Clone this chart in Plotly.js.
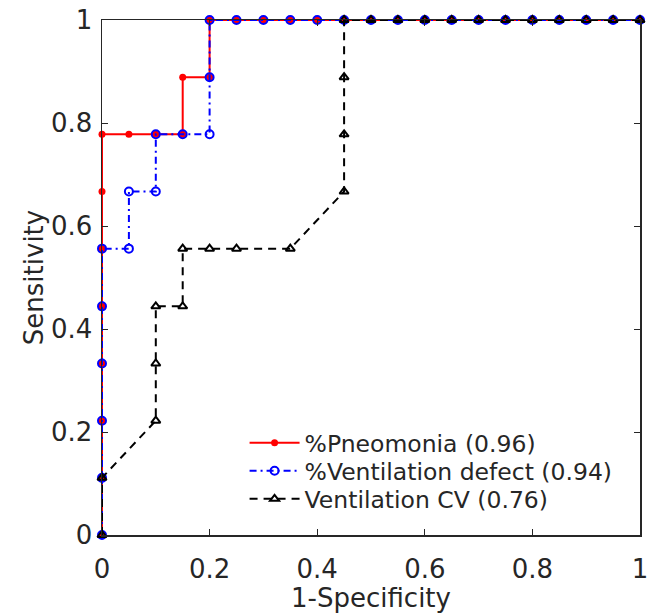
<!DOCTYPE html>
<html>
<head>
<meta charset="utf-8">
<script src="https://cdn.plot.ly/plotly-3.0.1.min.js"></script>
<style>html,body{margin:0;padding:0;background:#fff;}#chart{width:657px;height:613px;}</style>
</head>
<body>
<div id="chart"></div>
<script>
// 1-Specificity (x) and Sensitivity (y) for each ROC curve
const pneumoniaX = [0, 0, 0, 0, 0, 0, 0, 0, 0.05, 0.10, 0.15, 0.15, 0.20, 0.20, 0.25, 0.30, 0.35, 0.40, 0.45, 0.50, 0.55, 0.60, 0.65, 0.70, 0.75, 0.80, 0.85, 0.90, 0.95, 1.00];
const pneumoniaY = [0, 0.111, 0.222, 0.333, 0.444, 0.556, 0.667, 0.778, 0.778, 0.778, 0.778, 0.889, 0.889, 1, 1, 1, 1, 1, 1, 1, 1, 1, 1, 1, 1, 1, 1, 1, 1, 1];

const ventDefectX = [0, 0, 0, 0, 0, 0, 0.05, 0.05, 0.10, 0.10, 0.15, 0.20, 0.20, 0.20, 0.25, 0.30, 0.35, 0.40, 0.45, 0.50, 0.55, 0.60, 0.65, 0.70, 0.75, 0.80, 0.85, 0.90, 0.95, 1.00];
const ventDefectY = [0, 0.111, 0.222, 0.333, 0.444, 0.556, 0.556, 0.667, 0.667, 0.778, 0.778, 0.778, 0.889, 1, 1, 1, 1, 1, 1, 1, 1, 1, 1, 1, 1, 1, 1, 1, 1, 1];

const ventCvX = [0, 0, 0.10, 0.10, 0.10, 0.15, 0.15, 0.20, 0.25, 0.35, 0.45, 0.45, 0.45, 0.45, 0.50, 0.55, 0.60, 0.65, 0.70, 0.75, 0.80, 0.85, 0.90, 0.95, 1.00];
const ventCvY = [0, 0.111, 0.222, 0.333, 0.444, 0.444, 0.556, 0.556, 0.556, 0.556, 0.667, 0.778, 0.889, 1, 1, 1, 1, 1, 1, 1, 1, 1, 1, 1, 1];

const seriesNames = ['%Pneomonia (0.96)', '%Ventilation defect (0.94)', 'Ventilation CV (0.76)'];
const tickVals = [0, 0.2, 0.4, 0.6, 0.8, 1];
const tickText = ['0', '0.2', '0.4', '0.6', '0.8', '1'];

const FONT = 'DejaVu Sans, sans-serif';
const TXT = '#262626';

const traces = [
  {
    x: pneumoniaX, y: pneumoniaY, name: seriesNames[0], type: 'scatter', mode: 'lines+markers',
    legend: 'legend',
    line: {color: '#ff0000', width: 2}, cliponaxis: false,
    marker: {symbol: 'circle', size: 7, color: '#ff0000'}
  },
  {
    x: ventDefectX, y: ventDefectY, name: seriesNames[1], type: 'scatter', mode: 'lines+markers',
    legend: 'legend2',
    line: {color: '#0000ff', width: 2, dash: '7px,4px,2px,4px'}, cliponaxis: false,
    marker: {symbol: 'circle-open', size: 8, color: '#0000ff', line: {width: 2, color: '#0000ff'}}
  },
  {
    x: ventCvX, y: ventCvY, name: seriesNames[2], type: 'scatter', mode: 'lines+markers',
    legend: 'legend3',
    line: {color: '#000000', width: 2, dash: '8px,6px'}, cliponaxis: false,
    marker: {symbol: 'triangle-up-open', size: 8, color: '#000000', line: {width: 2, color: '#000000'}}
  }
];

const axisCommon = {
  range: [0, 1], tickvals: tickVals, ticktext: tickText,
  ticks: 'inside', ticklen: 6, tickwidth: 1, tickcolor: TXT,
  showline: true, linecolor: TXT, linewidth: 1.5, mirror: 'ticks',
  showgrid: false, zeroline: false,
  tickfont: {family: FONT, size: 26, color: TXT}
};

function legendAt(y) {
  return {
    x: 0.265, y: y, xanchor: 'left', yanchor: 'middle',
    bgcolor: 'rgba(255,255,255,0)', borderwidth: 0,
    font: {family: FONT, size: 23.5, color: TXT},
    itemwidth: 50
  };
}

const layout = {
  width: 657, height: 613,
  margin: {l: 102, r: 17, t: 20, b: 78},
  paper_bgcolor: '#ffffff', plot_bgcolor: '#ffffff',
  showlegend: true,
  xaxis: Object.assign({}, axisCommon, {
    ticklabelstandoff: 10,
    title: {text: '1-Specificity', font: {family: FONT, size: 26, color: TXT}, standoff: 0}
  }),
  yaxis: Object.assign({}, axisCommon, {
    ticklabelstandoff: 3,
    title: {text: 'Sensitivity', font: {family: FONT, size: 26, color: TXT}, standoff: 0}
  }),
  legend: legendAt(0.1786),
  legend2: legendAt(0.1243),
  legend3: legendAt(0.0699)
};

Plotly.newPlot('chart', traces, layout, {displayModeBar: false, staticPlot: true});
</script>
</body>
</html>
